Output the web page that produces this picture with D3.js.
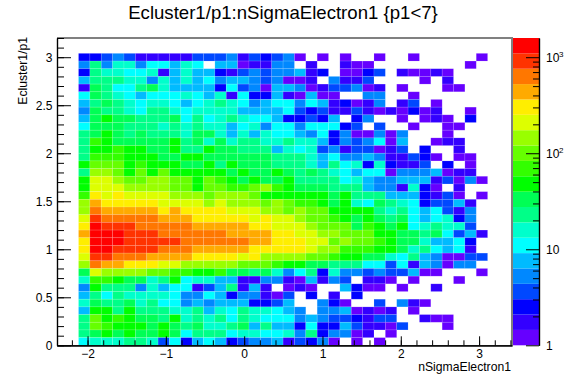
<!DOCTYPE html>
<html><head><meta charset="utf-8">
<script src="https://cdn.jsdelivr.net/npm/d3@7"></script>
<style>html,body{margin:0;padding:0;background:#fff}svg{display:block}text{font-family:"Liberation Sans",sans-serif;fill:#000}</style>
</head><body><svg id="c" width="567" height="384"></svg>
<script>
const titleText = "Ecluster1/p1:nSigmaElectron1 {p1<7}";
const xLabel = "nSigmaElectron1";
const yLabel = "Ecluster1/p1";
const xMajor = [-2,-1,0,1,2,3];
const yMajor = [0,0.5,1,1.5,2,2.5,3];
const zMajor = [1,10,100,1000];
const palette = ["#6600ff","#3300ff","#0000ff","#0048ff","#0088ff","#00bbff","#00ffff","#00ffcc","#00ff88","#00ff55","#00ff00","#33ff00","#66ff00","#99ff00","#ddff00","#ffee00","#ffaa00","#ff7700","#ff3300","#ff0000"];
// counts per bin, top row (y near 3.04) first, 36 columns from the left
const counts = [
[3,3,4,5,4,2,2,2,2,2,4,4,4,5,2,4,3,4,5,1,0,1,0,1,0,0,1,0,0,1,0,0,0,0,0,1],
[5,23,5,16,16,5,11,11,7,16,11,0,7,7,1,2,2,5,5,0,2,0,0,2,1,1,0,0,0,0,0,0,0,0,1,0],
[3,23,16,16,11,11,16,2,7,16,7,7,3,2,4,5,4,5,5,7,2,3,0,1,1,3,4,0,2,1,1,2,1,0,0,0],
[7,23,23,23,16,16,5,16,7,16,7,11,5,7,7,5,4,5,1,1,2,0,5,2,2,4,0,0,0,0,1,0,2,0,0,0],
[2,33,23,11,11,23,33,16,7,7,7,7,3,11,4,5,1,7,7,5,1,2,4,4,5,1,2,0,1,0,0,0,1,1,0,0],
[11,33,23,16,11,7,11,11,11,16,11,7,16,2,11,3,3,7,2,1,7,1,1,0,0,5,5,0,0,1,0,0,0,0,0,0],
[7,23,33,23,16,11,16,16,11,7,11,16,23,16,11,5,7,11,11,5,11,7,2,3,1,2,5,0,2,4,0,1,0,0,0,0],
[5,33,23,23,16,11,23,23,16,11,16,16,16,16,7,7,7,7,11,4,3,4,2,2,4,2,1,2,1,3,1,2,0,0,1,0],
[7,33,48,33,33,23,23,23,33,11,23,11,16,23,16,11,11,7,3,3,4,3,7,0,3,5,0,0,1,0,1,2,1,0,3,0],
[11,33,33,33,23,23,23,16,23,16,23,16,16,7,11,16,5,11,11,5,11,11,11,3,4,0,4,0,0,1,0,0,1,1,0,0],
[23,33,48,33,23,33,23,23,23,16,33,33,16,7,16,7,16,11,11,7,5,11,3,5,1,1,5,1,5,0,0,0,1,0,0,0],
[23,70,48,33,33,33,33,33,48,23,33,16,33,16,23,23,16,16,23,16,16,7,3,5,4,5,11,1,7,0,0,1,2,2,0,0],
[23,48,48,70,48,48,33,33,48,23,23,48,33,33,23,23,23,7,16,11,16,4,5,2,4,4,1,2,4,0,3,0,0,2,0,0],
[23,70,70,70,48,48,48,33,33,48,48,33,33,33,33,33,33,23,23,23,16,7,11,5,5,7,5,2,2,4,3,1,0,1,1,0],
[48,100,100,100,48,70,48,48,48,33,33,48,23,48,33,33,33,23,23,23,16,7,23,11,16,3,16,3,2,2,4,0,3,0,1,0],
[23,145,145,100,48,100,48,100,48,48,48,48,48,33,48,33,33,48,33,23,33,23,16,11,7,11,11,1,5,5,5,7,1,2,2,0],
[48,210,210,145,100,100,145,145,100,100,48,100,70,48,33,48,33,33,48,23,23,23,23,11,16,7,5,5,7,7,7,2,4,1,5,1],
[48,210,210,210,145,145,145,145,100,100,48,100,100,70,70,100,145,70,48,33,33,33,23,23,23,7,5,5,2,16,3,1,0,2,0,0],
[70,300,210,300,210,210,210,210,145,145,145,100,145,145,145,100,48,48,48,48,48,48,33,48,23,23,23,7,7,7,3,2,4,1,0,1],
[145,440,300,300,300,300,300,210,210,210,210,145,210,145,145,145,100,145,100,70,70,48,33,48,16,11,33,23,16,11,3,4,4,7,2,0],
[145,630,440,440,440,440,440,300,440,300,300,300,300,210,210,210,145,145,100,145,100,100,48,48,48,48,23,16,23,11,7,11,4,2,5,0],
[210,910,630,630,630,630,630,440,440,440,300,300,300,300,300,210,300,210,210,145,100,100,70,48,33,48,33,23,33,11,7,11,16,3,5,0],
[300,1300,910,910,910,630,630,630,630,630,440,440,440,440,440,300,300,210,210,210,145,100,100,100,33,70,48,33,48,11,16,23,16,16,4,0],
[440,1300,1300,1300,910,910,910,630,630,630,630,630,630,440,440,440,440,300,300,210,210,145,145,100,100,100,48,48,33,33,23,33,11,4,7,2],
[300,1300,1300,1300,910,910,910,910,910,630,630,630,630,630,630,440,440,300,300,300,210,210,100,145,100,100,70,48,33,33,16,7,7,11,3,0],
[300,1300,1300,910,910,910,910,630,630,630,440,440,440,440,440,300,300,300,300,300,210,145,145,70,70,70,48,48,33,16,23,11,7,11,2,0],
[210,910,910,630,630,630,440,440,440,440,300,300,300,300,210,300,145,145,145,145,100,100,70,48,48,33,33,16,11,23,7,5,1,1,4,4],
[145,630,440,440,300,300,300,210,210,145,145,145,145,145,100,100,100,70,48,48,33,33,23,23,23,11,11,4,11,2,7,5,1,5,5,0],
[33,210,145,145,145,145,100,100,70,70,48,48,70,33,33,23,33,16,5,11,23,3,16,5,5,4,5,4,4,7,1,1,0,0,0,1],
[16,70,70,48,33,33,16,23,48,11,16,16,7,7,2,2,5,5,2,1,7,2,5,4,0,2,2,1,0,1,0,0,0,1,0,0],
[5,48,23,23,23,5,16,7,11,11,2,4,7,23,2,7,2,0,1,2,1,0,0,7,3,1,1,0,1,0,0,2,0,0,0,0],
[7,23,11,23,16,16,16,16,11,5,5,11,7,3,5,5,2,1,4,0,3,0,2,0,3,0,0,0,0,0,0,0,0,0,0,0],
[16,33,23,23,33,16,23,11,11,5,7,5,7,7,7,3,3,4,7,0,0,5,3,1,0,0,4,0,5,2,1,0,0,0,0,0],
[7,48,48,23,48,23,23,23,16,16,23,7,16,11,23,16,16,11,7,5,0,5,5,7,1,2,1,2,0,1,0,0,0,0,0,0],
[23,100,48,70,48,33,33,23,48,16,23,16,23,11,23,16,11,11,11,5,7,5,4,4,3,2,4,4,0,0,2,1,1,0,0,0],
[23,100,70,48,48,48,33,48,33,23,33,16,16,23,33,7,23,7,7,3,11,3,3,7,4,2,2,1,4,0,0,0,1,0,0,0],
[23,33,48,33,48,33,33,48,33,11,23,23,23,11,16,16,11,11,16,5,23,3,5,5,1,2,0,1,0,0,0,0,0,0,0,0],
[11,16,16,16,23,23,16,4,11,3,7,11,7,3,4,5,5,7,2,4,3,5,1,0,1,0,1,0,0,0,0,0,0,0,0,0]
];
const binsX = 36, binsY = 38;
const x0Edge = -2.115, binW = 0.1451, binH = 0.08;
const zTop = 1585;

const svg = d3.select("#c");
const L=57, R=512, T=38, B=345.3;
const x = d3.scaleLinear().domain([-2.39,3.42]).range([L,R]);
const y = d3.scaleLinear().domain([0,3.2]).range([B,T]);
const zPos = d3.scaleLog().domain([1,zTop]).range([345.3,38]);
const level = v => Math.min(palette.length-1, Math.floor(Math.log10(v)/Math.log10(zTop)*palette.length));

// cells
const cells = [];
counts.forEach((row,r)=>row.forEach((v,c)=>{ if(v>0) cells.push({c,r:binsY-1-r,v}); }));
svg.append("g").selectAll("rect").data(cells).join("rect")
  .attr("x",d=>x(x0Edge+d.c*binW))
  .attr("y",d=>y((d.r+1)*binH))
  .attr("width",d=>x(x0Edge+binW)-x(x0Edge))
  .attr("height",d=>y(0)-y(binH))
  .attr("fill",d=>palette[level(d.v)])
  .attr("stroke","#fff").attr("stroke-opacity",0.17).attr("stroke-width",0.7);

// frame
svg.append("path").attr("d",`M${L},${T}H${R}V${B}`).attr("fill","none").attr("stroke","#808080").attr("stroke-width",2);

function styleAxis(g,w){g.select(".domain").attr("stroke","#000").attr("stroke-width",1.2);g.selectAll("line").attr("stroke","#000").attr("stroke-width",w||1);g.selectAll("text").attr("fill","#000").style("font-size","12px");}

// x axis
const xMinor = d3.range(-2.2,3.41,0.2).map(v=>+v.toFixed(1));
svg.append("g").attr("transform",`translate(0,${B})`).call(d3.axisBottom(x).tickValues(xMinor).tickSize(-5).tickSizeOuter(0).tickFormat(""))
  .call(g=>{styleAxis(g);});
svg.append("g").attr("transform",`translate(0,${B})`).call(d3.axisBottom(x).tickValues(xMajor).tickSize(-9).tickSizeOuter(0).tickPadding(0).tickFormat(d3.format("d")))
  .call(g=>{styleAxis(g);g.selectAll("text").attr("y",13).attr("dy",null);});

// y axis
const yMinor = d3.range(0,3.21,0.1).map(v=>+v.toFixed(1));
svg.append("g").attr("transform",`translate(${L},0)`).call(d3.axisLeft(y).tickValues(yMinor).tickSize(-7).tickSizeOuter(0).tickFormat(""))
  .call(g=>{styleAxis(g);});
svg.append("g").attr("transform",`translate(${L},0)`).call(d3.axisLeft(y).tickValues(yMajor).tickSize(-14).tickSizeOuter(0).tickFormat(d=>d===0?"0":String(d)))
  .call(g=>{styleAxis(g);g.selectAll("text").attr("x",-4.5);});

// colour bar
const barX=513, barW=26;
svg.append("g").selectAll("rect").data(palette).join("rect")
  .attr("x",barX).attr("width",barW)
  .attr("y",(d,i)=>zPos(Math.pow(zTop,(i+1)/palette.length)))
  .attr("height",(d,i)=>zPos(Math.pow(zTop,i/palette.length))-zPos(Math.pow(zTop,(i+1)/palette.length)))
  .attr("fill",d=>d);
const zMinor = [];
[1,10,100,1000].forEach(dec=>[2,3,4,5,6,7,8,9].forEach(m=>{ if(dec*m<=zTop) zMinor.push(dec*m); }));
svg.append("g").attr("transform",`translate(${barX+barW},0)`).call(d3.axisRight(zPos).tickValues(zMinor).tickSize(-6).tickSizeOuter(0).tickFormat(""))
  .call(g=>{styleAxis(g);});
const zAxis = d3.axisRight(zPos).tickValues(zMajor).tickSize(-13).tickSizeOuter(0).tickFormat("");
svg.append("g").attr("transform",`translate(${barX+barW},0)`).call(zAxis).call(g=>{styleAxis(g);});
const zLab = svg.append("g").selectAll("g").data(zMajor).join("g").attr("transform",d=>`translate(546,${zPos(d)+4.5})`);
zLab.append("text").style("font-size","12px").text(d=>d===1?"1":"10");
zLab.filter(d=>d>=100).append("text").style("font-size","8px").attr("x",13).attr("y",-5).text(d=>Math.round(Math.log10(d)));

// titles
svg.append("text").attr("x",283).attr("y",19).attr("text-anchor","middle").style("font-size","18.6px").text(titleText);
svg.append("text").attr("x",511).attr("y",371).attr("text-anchor","end").style("font-size","12.2px").text(xLabel);
svg.append("text").attr("transform","translate(27,37) rotate(-90)").attr("text-anchor","end").style("font-size","12.2px").text(yLabel);
</script></body></html>
